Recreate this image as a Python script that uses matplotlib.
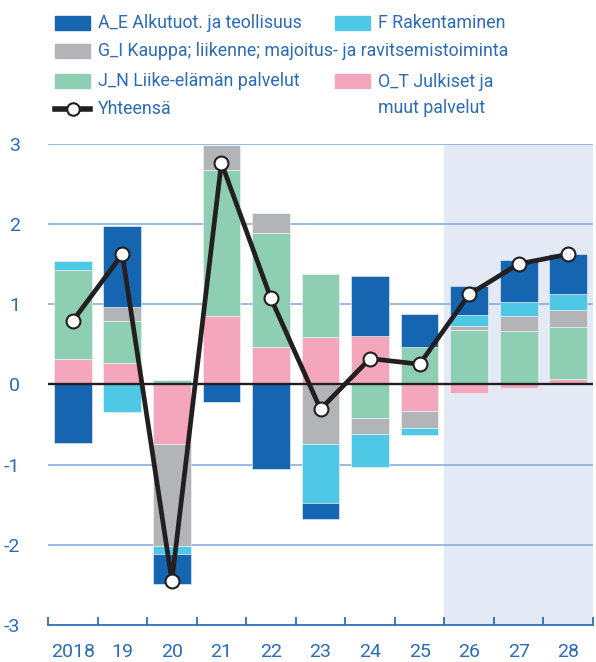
import numpy as np
import matplotlib.pyplot as plt
from matplotlib.patches import Rectangle
from matplotlib.lines import Line2D

plt.rcParams['font.family'] = ['Roboto', 'DejaVu Sans']

years = ["2018", "19", "20", "21", "22", "23", "24", "25", "26", "27", "28"]

# contributions, percentage points
o_t = [0.32, 0.27, -0.75, 0.85, 0.47, 0.59, 0.60, -0.33, -0.11, -0.05, 0.06]
j_n = [1.11, 0.52, 0.05, 1.82, 1.41, 0.78, -0.42, 0.46, 0.68, 0.66, 0.65]
g_i = [0.00, 0.17, -1.26, 0.31, 0.26, -0.74, -0.20, -0.21, 0.04, 0.19, 0.22]
f_rak = [0.10, -0.35, -0.10, 0.00, 0.00, -0.74, -0.41, -0.09, 0.14, 0.18, 0.19]
a_e = [-0.73, 1.01, -0.38, -0.22, -1.06, -0.20, 0.75, 0.42, 0.36, 0.52, 0.50]
total = [0.79, 1.62, -2.45, 2.76, 1.07, -0.31, 0.32, 0.25, 1.12, 1.50, 1.62]

series = [
    ("O_T Julkiset ja\nmuut palvelut", o_t, "#F4A6BD"),
    ("J_N Liike-elämän palvelut", j_n, "#8ECFB3"),
    ("G_I Kauppa; liikenne; majoitus- ja ravitsemistoiminta", g_i, "#B3B4B8"),
    ("F Rakentaminen", f_rak, "#4FC8E6"),
    ("A_E Alkutuot. ja teollisuus", a_e, "#1665B0"),
]

blue_txt = "#2B6CB8"
grid_col = "#7EA8D6"

fig = plt.figure(figsize=(5.96, 6.62), dpi=100)
ax = fig.add_axes([48 / 596, 0.0559, 545 / 596, 0.7273])

x = np.arange(len(years))
pos = np.zeros(len(years))
neg = np.zeros(len(years))
for name, vals, col in series:
    v = np.array(vals)
    bottom = np.where(v >= 0, pos, neg)
    ax.bar(x, v, 0.76, bottom=bottom, color=col, edgecolor="#f4f6f8",
           linewidth=0.4, zorder=2)
    pos = pos + np.where(v >= 0, v, 0)
    neg = neg + np.where(v < 0, v, 0)

ax.plot(x, total, color="#231F20", lw=3.4, marker="o", ms=10,
        mfc="white", mec="#231F20", mew=1.5, zorder=5)

ax.axvspan(7.5, 10.5, color="#E3EAF5", zorder=0, lw=0)
for yv in [-2, -1, 1, 2, 3]:
    ax.axhline(yv, color=grid_col, lw=1.1, zorder=1)
ax.axhline(0, color="#231F20", lw=1.7, zorder=4)

ax.set_xlim(-0.5, 10.5)
ax.set_ylim(-3, 3)
for s in ["top", "right", "left"]:
    ax.spines[s].set_visible(False)
ax.spines["bottom"].set_color("#2F6DB5")
ax.spines["bottom"].set_linewidth(1.3)

ax.set_xticks(np.arange(-0.5, 11, 1))
ax.set_xticklabels([])
ax.tick_params(axis="x", which="major", direction="in", length=6,
               color="#2F6DB5", width=1.3)
ax.set_xticks(x, minor=True)
ax.set_xticklabels(years, minor=True)
ax.tick_params(axis="x", which="minor", length=0, pad=13, labelsize=14,
               labelcolor=blue_txt)
ax.set_yticks([-3, -2, -1, 0, 1, 2, 3])
ax.set_yticklabels(["-3", "-2", "-1", "0", "1", "2", "3"])
ax.tick_params(axis="y", length=0, pad=20, labelsize=14, labelcolor=blue_txt)

# legend, drawn by hand to match the layout
W, H = 596, 662
def handle_patch(px, py, col):
    fig.patches.append(Rectangle((px / W, 1 - (py + 7) / H), 35 / W, 14 / H,
                                 transform=fig.transFigure, color=col))

def label(px, py, s):
    fig.text(px / W, 1 - py / H, s, color=blue_txt, fontsize=12.8,
             va="center", ha="left", linespacing=1.55)

handle_patch(55, 23, "#1665B0"); label(98, 23, "A_E Alkutuot. ja teollisuus")
handle_patch(335, 23, "#4FC8E6"); label(378, 23, "F Rakentaminen")
handle_patch(55, 51, "#B3B4B8")
label(98, 51, "G_I Kauppa; liikenne; majoitus- ja ravitsemistoiminta")
handle_patch(55, 81, "#8ECFB3"); label(98, 81, "J_N Liike-elämän palvelut")
handle_patch(335, 81, "#F4A6BD"); label(378, 95, "O_T Julkiset ja\nmuut palvelut")
fig.lines.append(Line2D([55 / W, 90 / W], [1 - 109 / H, 1 - 109 / H],
                        transform=fig.transFigure, color="#231F20", lw=4))
fig.lines.append(Line2D([72.5 / W], [1 - 109 / H], transform=fig.transFigure,
                        marker="o", ms=9, mfc="white", mec="#231F20",
                        mew=1.5, lw=0))
label(98, 109, "Yhteensä")

fig.savefig("out.png", dpi=100)
